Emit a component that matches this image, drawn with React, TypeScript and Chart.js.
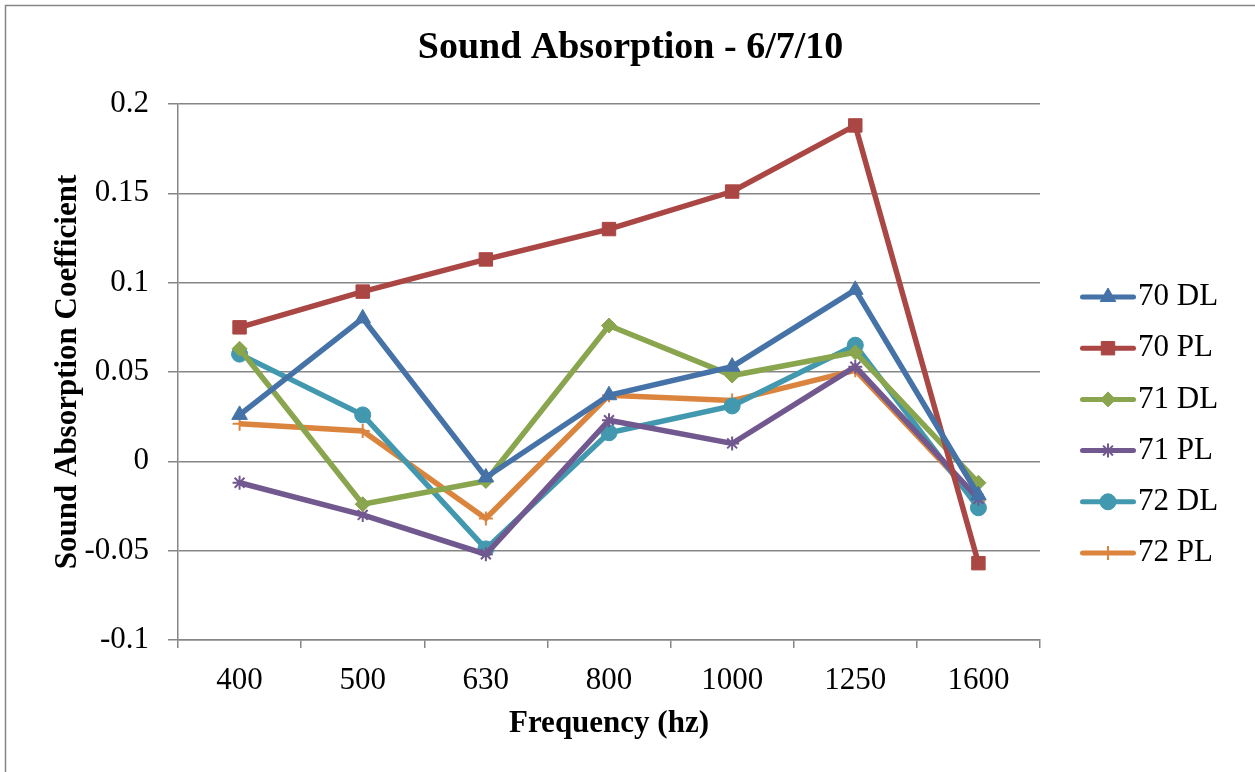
import React, { useEffect, useRef } from 'react';
import { Chart, registerables } from 'chart.js';
import { drawPoint } from 'chart.js/helpers';

Chart.register(...registerables);

// Frequency bands (Hz)
const frequencies = ['400', '500', '630', '800', '1000', '1250', '1600'];

// Sound absorption coefficients per sample
const dl70 = [0.026, 0.080, -0.009, 0.037, 0.053, 0.096, -0.019];
const pl70 = [0.075, 0.095, 0.113, 0.130, 0.151, 0.188, -0.057];
const dl71 = [0.063, -0.024, -0.011, 0.076, 0.048, 0.061, -0.012];
const pl71 = [-0.012, -0.030, -0.052, 0.023, 0.010, 0.053, -0.021];
const dl72 = [0.060, 0.026, -0.049, 0.016, 0.031, 0.065, -0.026];
const pl72 = [0.021, 0.017, -0.032, 0.037, 0.034, 0.051, -0.022];

const seriesLabels = ['70 DL', '70 PL', '71 DL', '71 PL', '72 DL', '72 PL'];
const seriesValues = [dl70, pl70, dl71, pl71, dl72, pl72];
const seriesColors = ['#4572A7', '#AA4643', '#89A54E', '#71588F', '#4198AF', '#DB843D'];
const seriesMarkers = ['triangle', 'rect', 'rectRot', 'star', 'circle', 'cross'];
const markerRadius = [9, 9.5, 7.5, 7, 8, 7];
const markerBorder = [1, 1, 1, 2, 1, 2];

const chartTitle = 'Sound Absorption - 6/7/10';

const FONT = '"Liberation Serif", "Times New Roman", serif';
const GRID = '#868686';

// White background, outer frame and the centred chart title
const frame = {
  id: 'frame',
  beforeDraw(chart: any) {
    const ctx = chart.ctx;
    ctx.save();
    ctx.fillStyle = '#ffffff';
    ctx.fillRect(0, 0, chart.width, chart.height);
    ctx.strokeStyle = GRID;
    ctx.lineWidth = 1.5;
    ctx.strokeRect(5.5, 5.5, chart.width + 50, chart.height + 50);
    ctx.fillStyle = '#000000';
    ctx.font = `bold 38px ${FONT}`;
    ctx.textAlign = 'center';
    ctx.textBaseline = 'middle';
    ctx.fillText(chartTitle, chart.width / 2 + 3, 48);
    ctx.restore();
  },
};

// Legend on the right: line sample with the series marker, then the label
const sideLegend = {
  id: 'sideLegend',
  afterDraw(chart: any) {
    const ctx = chart.ctx;
    const { right, top } = chart.chartArea;
    const x0 = right + 42.5;
    const x1 = right + 93.5;
    const tx = right + 98;
    chart.data.datasets.forEach((ds: any, i: number) => {
      const y = top + 193 + i * 51.2;
      ctx.save();
      ctx.strokeStyle = ds.borderColor;
      ctx.lineWidth = 5;
      ctx.lineCap = 'round';
      ctx.beginPath();
      ctx.moveTo(x0, y);
      ctx.lineTo(x1, y);
      ctx.stroke();
      ctx.lineCap = 'butt';
      ctx.fillStyle = ds.pointBackgroundColor;
      ctx.strokeStyle = ds.pointBorderColor;
      ctx.lineWidth = ds.pointBorderWidth;
      drawPoint(
        ctx,
        { pointStyle: ds.pointStyle, rotation: 0, radius: ds.pointRadius, borderWidth: ds.pointBorderWidth },
        (x0 + x1) / 2,
        y
      );
      ctx.fillStyle = '#000000';
      ctx.font = `31px ${FONT}`;
      ctx.textAlign = 'left';
      ctx.textBaseline = 'middle';
      ctx.fillText(ds.label, tx, y);
      ctx.restore();
    });
  },
};

export default function App() {
  const canvasRef = useRef<HTMLCanvasElement | null>(null);

  useEffect(() => {
    document.body.style.margin = '0';
    const canvas = canvasRef.current;
    if (!canvas) return;
    Chart.defaults.font.family = FONT;

    const chart = new Chart(canvas, {
      type: 'line',
      data: {
        labels: frequencies,
        datasets: seriesLabels.map((label, i) => ({
          label,
          data: seriesValues[i],
          borderColor: seriesColors[i],
          backgroundColor: seriesColors[i],
          borderWidth: 5.5,
          tension: 0,
          fill: false,
          pointStyle: seriesMarkers[i],
          pointRadius: markerRadius[i],
          pointHoverRadius: markerRadius[i],
          pointBackgroundColor: seriesColors[i],
          pointBorderColor: seriesColors[i],
          pointBorderWidth: markerBorder[i],
          clip: false,
        })),
      },
      options: {
        responsive: false,
        animation: false,
        events: [],
        layout: { padding: { left: 0, right: 215, top: 104, bottom: 0 } },
        plugins: {
          legend: { display: false },
          tooltip: { enabled: false },
          title: { display: false },
        },
        scales: {
          x: {
            offset: true,
            grid: {
              offset: true,
              drawOnChartArea: false,
              drawTicks: true,
              tickLength: 8,
              color: GRID,
              lineWidth: 1.5,
            },
            border: { color: GRID, width: 1.5 },
            ticks: {
              color: '#000000',
              font: { family: FONT, size: 31 },
              padding: 14,
              autoSkip: false,
              maxRotation: 0,
            },
            title: {
              display: true,
              text: 'Frequency (hz)',
              color: '#000000',
              font: { family: FONT, size: 31, weight: 'bold', lineHeight: 1.2 },
              padding: { top: 0, bottom: 29 },
            },
            afterFit: (s: any) => {
              s.height = 132;
            },
          },
          y: {
            min: -0.1,
            max: 0.2,
            grid: {
              color: GRID,
              lineWidth: 1.5,
              drawTicks: true,
              tickLength: 10,
            },
            border: { color: GRID, width: 1.5 },
            ticks: {
              stepSize: 0.05,
              color: '#000000',
              font: { family: FONT, size: 31 },
              padding: 19,
              callback: (v: any) => String(Math.round(Number(v) * 100) / 100),
            },
            title: {
              display: true,
              text: 'Sound Absorption Coefficient',
              color: '#000000',
              font: { family: FONT, size: 31, weight: 'bold', lineHeight: 1.2 },
              padding: { top: 49, bottom: 0 },
            },
            afterFit: (s: any) => {
              s.width = 178;
            },
          },
        },
      },
      plugins: [frame, sideLegend],
    } as any);

    return () => chart.destroy();
  }, []);

  return (
    <div style={{ width: 1255, height: 772 }}>
      <canvas ref={canvasRef} width={1255} height={772} style={{ display: 'block' }} />
    </div>
  );
}
